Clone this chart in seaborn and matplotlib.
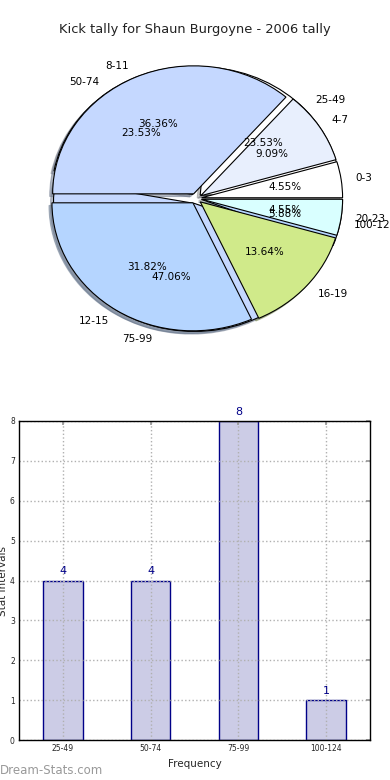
import numpy as np
import pandas as pd
import matplotlib
matplotlib.use("Agg")
import matplotlib.pyplot as plt
import seaborn as sns

# kick tally per game (pie, drawn on top)
kick_ranges = ["0-3", "4-7", "8-11", "12-15", "16-19", "20-23"]
kick_counts = [1, 2, 8, 7, 3, 1]

# stat intervals (pie underneath + bar chart)
stat_ranges = ["25-49", "50-74", "75-99", "100-124"]
stat_counts = [4, 4, 8, 1]

pie_colors = ["#ffffff", "#e8effd", "#c5d8ff", "#b5d5ff", "#d0ea8a", "#d9ffff"]

sns.set_theme(style="white")
plt.rcParams["font.family"] = ["DejaVu Sans"]

fig = plt.figure(figsize=(3.9, 7.8), dpi=100)

# --- pie section ---
rx, ry = 141, 128
cx, cy = 196, 780 - 198.5
ax_pie = fig.add_axes([(cx - 1.25 * rx) / 390, (cy - 1.25 * ry) / 780,
                       2.5 * rx / 390, 2.5 * ry / 780])

wedge_kw = dict(edgecolor="black", linewidth=0.8)
text_kw = dict(fontsize=7.5, color="black")
shadow_kw = dict(ox=-0.015, oy=-0.015, shade=0.45)

ax_pie.pie(stat_counts, labels=stat_ranges, colors=pie_colors[:4],
           autopct="%.2f%%", explode=[0.04] * 4, shadow=shadow_kw, startangle=0,
           wedgeprops=wedge_kw, textprops=text_kw)
ax_pie.pie(kick_counts, labels=kick_ranges, colors=pie_colors,
           autopct="%.2f%%", explode=[0.04] * 6, shadow=shadow_kw, startangle=0,
           wedgeprops=wedge_kw, textprops=text_kw)
ax_pie.set_aspect("auto")
ax_pie.set_xlim(-1.25, 1.25)
ax_pie.set_ylim(-1.25, 1.25)
ax_pie.axis("off")

fig.text(0.5, 1 - 30 / 780, "Kick tally for Shaun Burgoyne - 2006 tally",
         ha="center", va="center", fontsize=9.4, color="#222222")

# --- bar section ---
ax_bar = fig.add_axes([19 / 390, 40 / 780, 351 / 390, 319 / 780])
df = pd.DataFrame({"interval": stat_ranges, "count": stat_counts})
sns.barplot(data=df, x="interval", y="count", order=stat_ranges,
            color="#ccccE6", saturation=1, edgecolor="#000088", linewidth=1,
            width=0.45, errorbar=None, ax=ax_bar)
ax_bar.bar_label(ax_bar.containers[0], padding=3, color="#000088", fontsize=8)

ax_bar.set_xlim(-0.5, 3.5)
ax_bar.set_ylim(0, 8)
ax_bar.set_yticks(range(0, 9))
ax_bar.set_axisbelow(False)
ax_bar.grid(True, linestyle=":", color="#b0b0b0", linewidth=1)
ax_bar.tick_params(direction="in", length=3, color="#999999", labelsize=5.5,
                   top=True, right=True, pad=3)
for sp in ax_bar.spines.values():
    sp.set_color("black")
    sp.set_linewidth(1)
    sp.set_visible(True)
    sp.set_zorder(3)

ax_bar.set_xlabel("Frequency", fontsize=7.5)
ax_bar.set_ylabel("Stat intervals", fontsize=7.5)
ax_bar.yaxis.set_label_coords(-0.03, 0.5)

fig.text(0.0, 10 / 780, "Dream-Stats.com", ha="left", va="center",
         fontsize=8.5, color="#999999")

fig.savefig("out.png", dpi=100)
